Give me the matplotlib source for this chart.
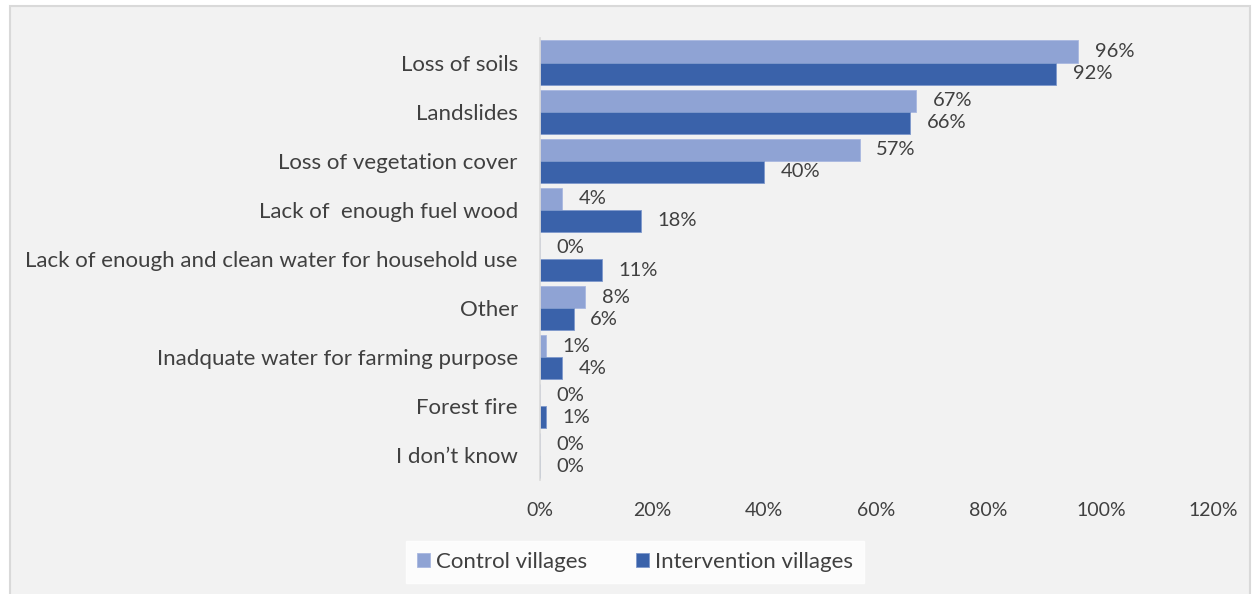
import matplotlib
matplotlib.use("Agg")
import matplotlib.pyplot as plt
from matplotlib.patches import Rectangle
import numpy as np

categories = ["Loss of soils", "Landslides", "Loss of vegetation cover",
              "Lack of  enough fuel wood",
              "Lack of enough and clean water for household use", "Other",
              "Inadquate water for farming purpose", "Forest fire", "I don\u2019t know"]
control = [96, 67, 57, 4, 0, 8, 1, 0, 0]
intervention = [92, 66, 40, 18, 11, 6, 4, 1, 0]
series_names = ["Control villages", "Intervention villages"]
xticks = [0, 20, 40, 60, 80, 100, 120]

light = "#8fa3d4"
dark = "#3a62aa"
txt = "#404040"
bg = "#f2f2f2"

plt.rcParams["font.family"] = ["Lato", "DejaVu Sans"]

fig = plt.figure(figsize=(12.54, 5.94), dpi=100, facecolor="white")
# grey panel behind the chart
fig.patches.append(Rectangle((10 / 1254, -0.01), 1240 / 1254, 1 - 6 / 594 + 0.01,
                             transform=fig.transFigure, facecolor=bg,
                             edgecolor="#d9d9d9", linewidth=1.5, zorder=-5))

ax = fig.add_axes([540 / 1254, 1 - 480 / 594, 673 / 1254, 442 / 594])
ax.set_facecolor(bg)
ax.set_zorder(1)

y = np.arange(len(categories))
h = 0.45
b1 = ax.barh(y - h / 2, control, height=h, color=light, edgecolor="#a9b8e0",
             linewidth=0.6, label=series_names[0])
b2 = ax.barh(y + h / 2, intervention, height=h, color=dark, edgecolor="#7f99cc",
             linewidth=0.6, label=series_names[1])

for bars, vals in ((b1, control), (b2, intervention)):
    for rect, v in zip(bars, vals):
        ax.annotate(f"{v}%", (v, rect.get_y() + rect.get_height() / 2),
                    xytext=(12, 0), textcoords="offset points",
                    ha="left", va="center", fontsize=14.5, color=txt)

ax.set_ylim(len(categories) - 0.5, -0.5)
ax.set_xlim(0, 120)
ax.set_yticks(y)
ax.set_yticklabels(categories, fontsize=16)
ax.set_xticks(xticks)
ax.set_xticklabels([f"{t}%" for t in xticks], fontsize=14)
ax.tick_params(axis="both", length=0, labelcolor=txt)
ax.tick_params(axis="y", pad=16)
ax.tick_params(axis="x", pad=16)
for s in ("top", "right", "bottom"):
    ax.spines[s].set_visible(False)
ax.spines["left"].set_color("#d9d9d9")
ax.spines["left"].set_linewidth(1.2)

leg = ax.legend(loc="center", bbox_to_anchor=(635 / 1254, 1 - 562 / 594),
                bbox_transform=fig.transFigure, ncol=2, frameon=True,
                fancybox=False, fontsize=16, handlelength=0.6, handleheight=0.6,
                handletextpad=0.25, columnspacing=2.2, borderpad=0.5,
                borderaxespad=0)
leg.get_frame().set_facecolor("white")
leg.get_frame().set_edgecolor("white")
for t in leg.get_texts():
    t.set_color(txt)

fig.savefig("out.png", dpi=100)
